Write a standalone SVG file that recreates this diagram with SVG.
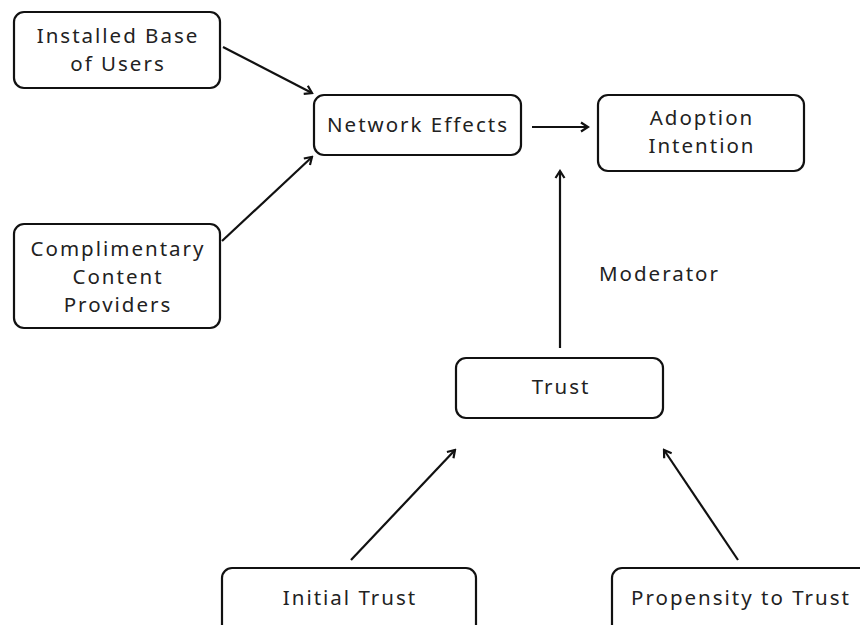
<svg xmlns="http://www.w3.org/2000/svg" width="860" height="625" viewBox="0 0 860 625">
<defs>
<marker id="ah" viewBox="0 0 12 12" refX="10" refY="6" markerWidth="12" markerHeight="12" markerUnits="userSpaceOnUse" orient="auto">
<path d="M3,1.5 L10,6 L3,10.5" fill="none" stroke="#111" stroke-width="2.2" stroke-linejoin="miter"/>
</marker>
</defs>
<style>
.box{fill:#fff;stroke:#111;stroke-width:2.2}
.t{font-family:"Noto Sans","DejaVu Sans",sans-serif;font-size:20.5px;letter-spacing:2px;fill:#222;text-anchor:middle}
.c{stroke:#111;stroke-width:2.2;fill:none;marker-end:url(#ah)}
</style>
<rect width="860" height="625" fill="#fff"/>
<g id="connectors">
<line class="c" x1="223" y1="47" x2="312" y2="93"/>
<line class="c" x1="222" y1="241" x2="312" y2="157"/>
<line class="c" x1="532" y1="127" x2="588" y2="127"/>
<line class="c" x1="560" y1="348" x2="560" y2="171"/>
<line class="c" x1="351" y1="560" x2="455" y2="450"/>
<line class="c" x1="738" y1="560" x2="664" y2="450"/>
</g>
<g id="installed">
<rect class="box" x="14" y="12" width="206" height="76" rx="10"/>
<text class="t" x="118" y="43">Installed Base</text>
<text class="t" x="118" y="71">of Users</text>
</g>
<g id="network">
<rect class="box" x="314" y="95" width="207" height="60" rx="10"/>
<text class="t" x="418" y="132">Network Effects</text>
</g>
<g id="adoption">
<rect class="box" x="598" y="95" width="206" height="76" rx="10"/>
<text class="t" x="702" y="125">Adoption</text>
<text class="t" x="702" y="153">Intention</text>
</g>
<g id="complimentary">
<rect class="box" x="14" y="224" width="206" height="104" rx="10"/>
<text class="t" x="118" y="256">Complimentary</text>
<text class="t" x="118" y="284">Content</text>
<text class="t" x="118" y="312">Providers</text>
</g>
<g id="trust">
<rect class="box" x="456" y="358" width="207" height="60" rx="10"/>
<text class="t" x="561" y="394">Trust</text>
</g>
<g id="moderator">
<text class="t" x="599" y="281" style="text-anchor:start">Moderator</text>
</g>
<g id="initial">
<rect class="box" x="222" y="568" width="254" height="80" rx="10"/>
<text class="t" x="350" y="605">Initial Trust</text>
</g>
<g id="propensity">
<rect class="box" x="612" y="568" width="270" height="80" rx="10"/>
<text class="t" x="741" y="605">Propensity to Trust</text>
</g>
</svg>
